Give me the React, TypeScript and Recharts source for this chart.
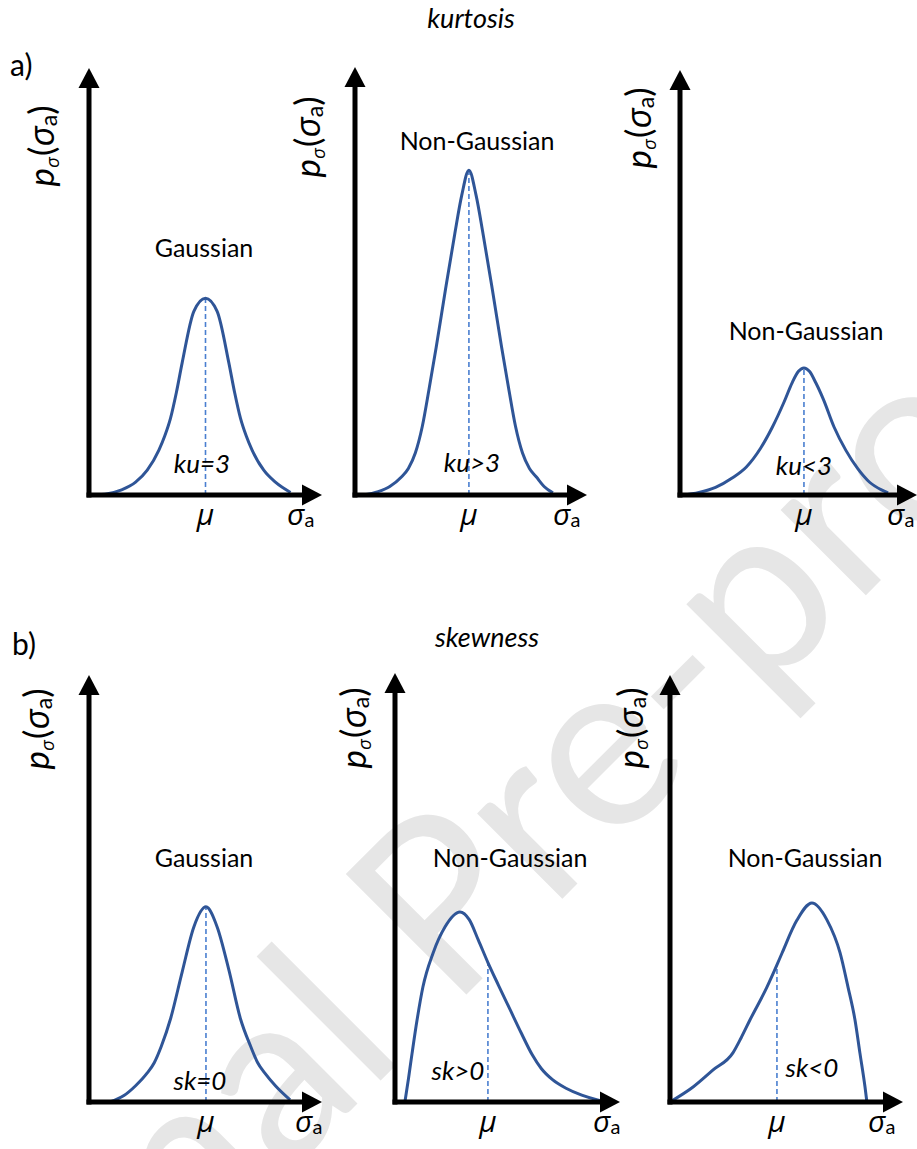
import React from 'react'
import { LineChart, Line, XAxis, YAxis, ReferenceLine, ReferenceDot } from 'recharts'

// kurtosis row: Gaussian, leptokurtic, platykurtic
const kuGaussX = [0.2, 0.8, 1.4, 2.0, 2.5, 3.0, 3.25, 3.5, 3.75, 4.0, 4.5, 5.0, 5.5, 6.0, 6.25, 6.5, 6.75, 7.0, 7.5, 8.0, 8.65]
const kuGaussY = [0.0, 0.03, 0.12, 0.3, 0.58, 1.05, 1.38, 1.8, 2.4, 3.1, 4.3, 4.61, 4.3, 3.1, 2.4, 1.8, 1.38, 1.05, 0.58, 0.3, 0.06]

const kuHighX = [0.35, 1.0, 1.5, 2.0, 2.3, 2.6, 2.9, 3.2, 3.5, 3.9, 4.3, 4.6, 4.91, 5.22, 5.52, 5.92, 6.32, 6.62, 6.92, 7.22, 7.52, 7.82, 8.15, 8.53]
const kuHighY = [0.0, 0.08, 0.2, 0.42, 0.62, 0.98, 1.6, 2.5, 3.45, 4.8, 6.1, 7.0, 7.59, 7.0, 6.1, 4.8, 3.45, 2.5, 1.6, 0.98, 0.62, 0.42, 0.2, 0.05]

const kuLowX = [0.1, 0.8, 1.5, 2.2, 2.8, 3.4, 3.9, 4.4, 4.73, 5.0, 5.23, 5.46, 5.73, 6.05, 6.5, 7.0, 7.5, 8.0, 8.5, 8.78]
const kuLowY = [0.0, 0.06, 0.18, 0.4, 0.66, 1.1, 1.6, 2.2, 2.64, 2.91, 2.99, 2.91, 2.64, 2.25, 1.6, 1.05, 0.62, 0.3, 0.12, 0.05]

// skewness row: Gaussian, right-skewed, left-skewed
const skGaussX = [0.9, 1.5, 2.0, 2.5, 2.8, 3.1, 3.5, 4.0, 4.5, 5.02, 5.5, 6.0, 6.5, 6.94, 7.24, 7.54, 8.0, 8.63]
const skGaussY = [0.0, 0.15, 0.38, 0.68, 0.92, 1.3, 1.95, 3.05, 4.1, 4.57, 4.1, 3.1, 1.95, 1.3, 0.92, 0.68, 0.38, 0.05]

const skPosX = [0.44, 0.6, 0.76, 0.98, 1.24, 1.69, 2.22, 2.89, 3.3, 3.7, 4.13, 4.6, 5.1, 5.6, 6.1, 6.5, 7.0, 7.6, 8.3, 9.0, 9.42]
const skPosY = [0.0, 0.55, 1.14, 1.91, 2.68, 3.47, 4.08, 4.43, 4.25, 3.78, 3.25, 2.72, 2.17, 1.62, 1.1, 0.78, 0.52, 0.32, 0.16, 0.05, 0.0]

const skNegX = [0.0, 0.99, 1.85, 2.7, 3.05, 3.43, 4.16, 4.59, 4.81, 5.45, 6.09, 6.74, 7.3, 7.64, 7.94, 8.15, 8.37, 8.45]
const skNegY = [0.0, 0.35, 0.75, 1.15, 1.5, 1.92, 2.69, 3.21, 3.49, 4.26, 4.66, 4.26, 3.49, 2.69, 1.92, 1.15, 0.35, 0.0]

// mean position and curve height at the mean
const means = [5.0, 4.91, 5.23, 5.02, 4.13, 4.59]
const meanTops = [4.61, 7.59, 2.99, 4.57, 3.25, 3.21]

const titles = ['Gaussian', 'Non-Gaussian', 'Non-Gaussian', 'Gaussian', 'Non-Gaussian', 'Non-Gaussian']
const momentLabels = ['ku=3', 'ku>3', 'ku<3', 'sk=0', 'sk>0', 'sk<0']

const curveColor = '#2f5597'
const meanColor = '#4a7fd0'
const font = "Lato, 'Open Sans', sans-serif"
const greek = "'Open Sans', 'Noto Sans', sans-serif"

// page layout of each panel: y-axis x, x-arrow tip, x-axis y, y-arrow tip
const panels = [
  { xs: kuGaussX, ys: kuGaussY, left: 89, right: 322, bottom: 495, top: 68, titleX: 204, titleY: 257, momX: 202, momY: 473, yLabX: 54, yLabY: 146, sigX: 287 },
  { xs: kuHighX, ys: kuHighY, left: 355, right: 587, bottom: 495, top: 67, titleX: 477, titleY: 150, momX: 472, momY: 472, yLabX: 320, yLabY: 137, sigX: 553 },
  { xs: kuLowX, ys: kuLowY, left: 680, right: 917, bottom: 495, top: 70, titleX: 806, titleY: 340, momX: 804, momY: 475, yLabX: 651, yLabY: 128, sigX: 887 },
  { xs: skGaussX, ys: skGaussY, left: 89, right: 322, bottom: 1102, top: 675, titleX: 204, titleY: 867, momX: 200, momY: 1090, yLabX: 49, yLabY: 729, sigX: 295 },
  { xs: skPosX, ys: skPosY, left: 395, right: 620, bottom: 1102, top: 673, titleX: 510, titleY: 867, momX: 458, momY: 1080, yLabX: 366, yLabY: 728, sigX: 593 },
  { xs: skNegX, ys: skNegY, left: 670, right: 903, bottom: 1102, top: 675, titleX: 805, titleY: 867, momX: 812, momY: 1077, yLabX: 643, yLabY: 728, sigX: 868 },
]

const pad = 30

function DistPanel({ p, mean, meanTop }: any) {
  const data = p.xs.map((x: number, i: number) => ({ x, y: p.ys[i] }))
  return (
    <div style={{ position: 'absolute', left: p.left - pad, top: p.top - pad }}>
      <LineChart
        width={p.right - p.left + 2 * pad}
        height={p.bottom - p.top + 2 * pad}
        data={data}
        margin={{ top: pad, right: pad, bottom: pad, left: pad }}
      >
        <XAxis type="number" dataKey="x" domain={[0, 10]} hide height={0} />
        <YAxis type="number" domain={[0, 10]} hide width={0} />
        <ReferenceLine
          segment={[{ x: mean, y: 0 }, { x: mean, y: meanTop }]}
          stroke={meanColor}
          strokeWidth={1.6}
          strokeDasharray="5 3"
          ifOverflow="visible"
        />
        <Line
          type="monotone"
          dataKey="y"
          stroke={curveColor}
          strokeWidth={3}
          dot={false}
          activeDot={false}
          isAnimationActive={false}
        />
        <ReferenceLine segment={[{ x: 0, y: 0 }, { x: 9.5, y: 0 }]} stroke="#000" strokeWidth={5} strokeLinecap="square" ifOverflow="visible" />
        <ReferenceLine segment={[{ x: 0, y: 0 }, { x: 0, y: 9.6 }]} stroke="#000" strokeWidth={5} strokeLinecap="square" ifOverflow="visible" />
        <ReferenceDot
          x={10}
          y={0}
          r={0}
          ifOverflow="visible"
          shape={(s: any) => (
            <polygon points={`${s.cx},${s.cy} ${s.cx - 20},${s.cy - 10.5} ${s.cx - 20},${s.cy + 10.5}`} fill="#000" />
          )}
        />
        <ReferenceDot
          x={0}
          y={10}
          r={0}
          ifOverflow="visible"
          shape={(s: any) => (
            <polygon points={`${s.cx},${s.cy} ${s.cx - 10.5},${s.cy + 20} ${s.cx + 10.5},${s.cy + 20}`} fill="#000" />
          )}
        />
      </LineChart>
    </div>
  )
}

function SigmaA({ x, y }: { x: number; y: number }) {
  return (
    <text x={x} y={y} fontFamily={font} fontSize={30} fill="#000">
      <tspan fontFamily={greek} fontStyle="italic">σ</tspan>
      <tspan fontSize={20} dy={2}>a</tspan>
    </text>
  )
}

function PLabel({ x, y }: { x: number; y: number }) {
  return (
    <text transform={`translate(${x},${y}) rotate(-90)`} textAnchor="middle" fontFamily={font} fontSize={35} fill="#000">
      <tspan fontStyle="italic">p</tspan>
      <tspan fontFamily={greek} fontStyle="italic" fontSize={19} dy={5}>σ</tspan>
      <tspan dy={-5} dx={1}>(</tspan>
      <tspan fontFamily={greek} fontStyle="italic">σ</tspan>
      <tspan fontSize={23} dy={3}>a</tspan>
      <tspan dy={-3}>)</tspan>
    </text>
  )
}

export default function App() {
  return (
    <div style={{ position: 'absolute', left: 0, top: 0, width: 917, height: 1149, background: '#fff', overflow: 'hidden' }}>
      <svg width={917} height={1149} style={{ position: 'absolute', left: 0, top: 0 }}>
        <text
          x={516}
          y={945}
          transform="rotate(-45 516 945)"
          textAnchor="middle"
          fontFamily={font}
          fontSize={238}
          fill="#e6e6e6"
        >
          Journal Pre-proof
        </text>
      </svg>

      {panels.map((p, i) => (
        <DistPanel key={i} p={p} mean={means[i]} meanTop={meanTops[i]} />
      ))}

      <svg width={917} height={1149} style={{ position: 'absolute', left: 0, top: 0, pointerEvents: 'none' }}>
        <text x={471} y={28} textAnchor="middle" fontFamily={font} fontStyle="italic" fontSize={27}>kurtosis</text>
        <text x={487} y={647} textAnchor="middle" fontFamily={font} fontStyle="italic" fontSize={27}>skewness</text>
        <text x={10} y={76} fontFamily={font} fontSize={30}>a)</text>
        <text x={12} y={655} fontFamily={font} fontSize={30}>b)</text>
        {panels.map((p, i) => {
          const muX = p.left + (means[i] / 10) * (p.right - p.left)
          return (
            <g key={i}>
              <text x={p.titleX} y={p.titleY} textAnchor="middle" fontFamily={font} fontSize={25}>{titles[i]}</text>
              <text x={p.momX} y={p.momY} textAnchor="middle" fontFamily={font} fontStyle="italic" fontSize={26}>{momentLabels[i]}</text>
              <text x={muX} y={p.bottom + 30} textAnchor="middle" fontFamily={greek} fontStyle="italic" fontSize={30}>μ</text>
              <SigmaA x={p.sigX} y={p.bottom + 30} />
              <PLabel x={p.yLabX} y={p.yLabY} />
            </g>
          )
        })}
      </svg>
    </div>
  )
}
